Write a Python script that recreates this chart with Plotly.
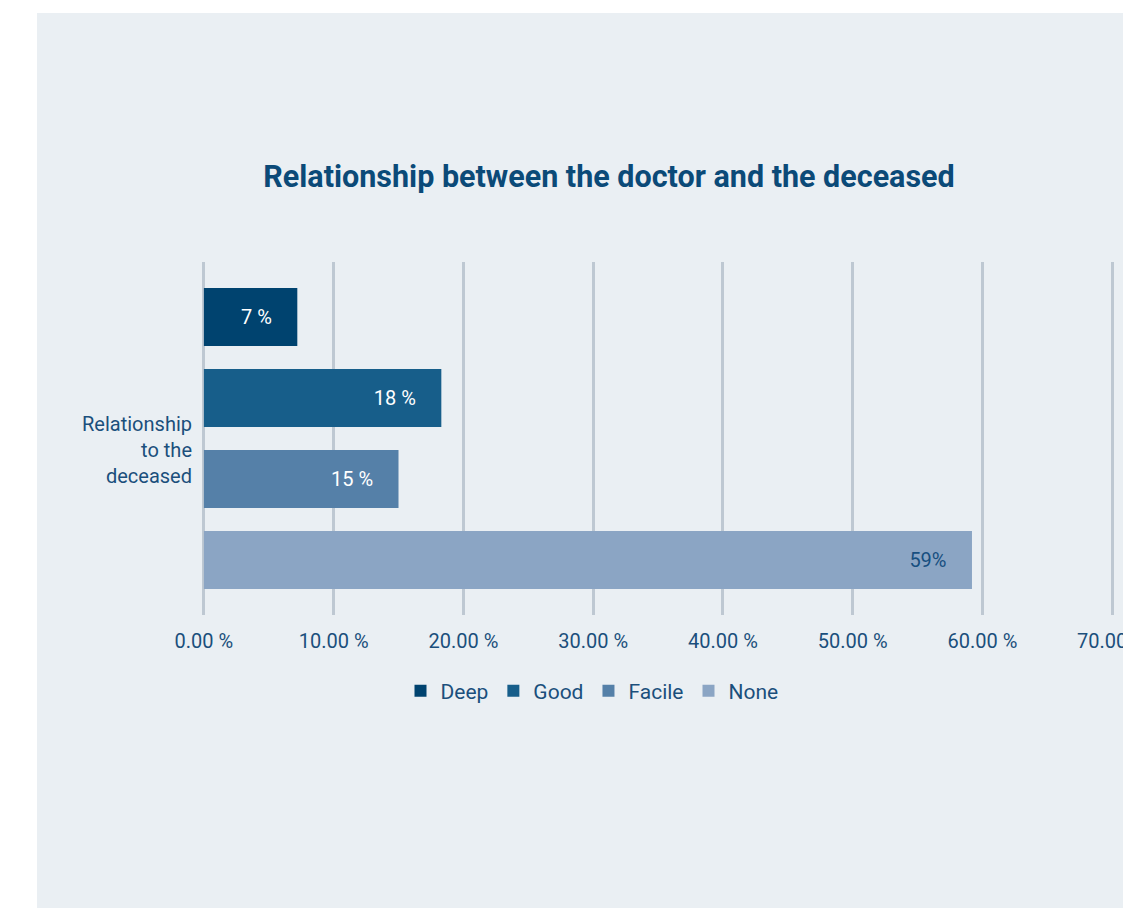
import plotly.graph_objects as go

category = ["Relationship<br>to the<br>deceased"]
series = ["Deep", "Good", "Facile", "None"]
values = [7.2, 18.3, 15.0, 59.2]
labels = ["7 %", "18 %", "15 %", "59%"]
colors = ["#00436f", "#175e8a", "#5580a8", "#8ba5c4"]
text_colors = ["#ffffff", "#ffffff", "#ffffff", "#174f80"]
x_ticks = [0, 10, 20, 30, 40, 50, 60, 70]
x_tick_text = ["0.00 %", "10.00 %", "20.00 %", "30.00 %", "40.00 %", "50.00 %", "60.00 %", "70.00 %"]

FONT = "Roboto"
BLUE = "#1b4f7c"

fig = go.Figure()
for name, v, lab, c, tc in zip(series, values, labels, colors, text_colors):
    fig.add_trace(go.Bar(
        name=name, y=category, x=[v], orientation="h",
        marker=dict(color=c, line=dict(width=0)),
        text=[lab + "\u2007\u2007"], textposition="inside", insidetextanchor="end",
        textfont=dict(family=FONT, size=20, color=tc),
        hoverinfo="skip",
    ))

W, H = 1123, 908
L, R, T, B = 200, 7, 262, 293
pw, ph = W - L - R, H - T - B

def px_x(px):
    return (px - L) / pw

def px_y(py):
    return (H - B - py) / ph

fig.add_shape(type="rect", xref="paper", yref="paper",
              x0=px_x(37), x1=px_x(W + 5), y0=px_y(H + 5), y1=px_y(13),
              fillcolor="#eaeff3", line=dict(width=0), layer="below")

# last tick label overflows the page edge (as in the reference); drawn as an annotation
shown_text = x_tick_text[:-1] + [""]
fig.add_annotation(x=x_ticks[-1], xref="x", y=0, yref="paper", yanchor="top",
                   text=x_tick_text[-1], showarrow=False, yshift=-12,
                   font=dict(family=FONT, size=20, color=BLUE))

fig.update_layout(
    width=W, height=H,
    margin=dict(l=L, r=R, t=T, b=B, autoexpand=False),
    paper_bgcolor="#ffffff",
    plot_bgcolor="rgba(0,0,0,0)",
    barmode="group", bargap=0.082, bargroupgap=0.284,
    font=dict(family=FONT, color=BLUE),
    title=dict(text="<b>Relationship between the doctor and the deceased</b>",
               x=609 / W, xanchor="center", xref="container",
               y=1 - 176 / H, yanchor="middle", yref="container",
               font=dict(family=FONT, size=30.5, color="#0b4a78")),
    xaxis=dict(range=[-0.3, 70.3], tickvals=x_ticks, ticktext=shown_text,
               showgrid=True, gridcolor="#bec8d2", gridwidth=3,
               zeroline=True, zerolinecolor="#bec8d2", zerolinewidth=3,
               showline=False, ticks="", ticklabelstandoff=12,
               tickfont=dict(family=FONT, size=20, color=BLUE), automargin=False),
    yaxis=dict(autorange="reversed", showgrid=False, zeroline=False, showline=False,
               ticks="", ticklabelstandoff=7, ticklabelshift=-11,
               tickfont=dict(family=FONT, size=20, color=BLUE), automargin=False),
    legend=dict(orientation="h", x=px_x(592), xanchor="center",
                y=px_y(691), yanchor="middle",
                font=dict(family=FONT, size=21, color=BLUE),
                bgcolor="rgba(0,0,0,0)"),
    showlegend=True,
)

fig.write_html("out.html")
